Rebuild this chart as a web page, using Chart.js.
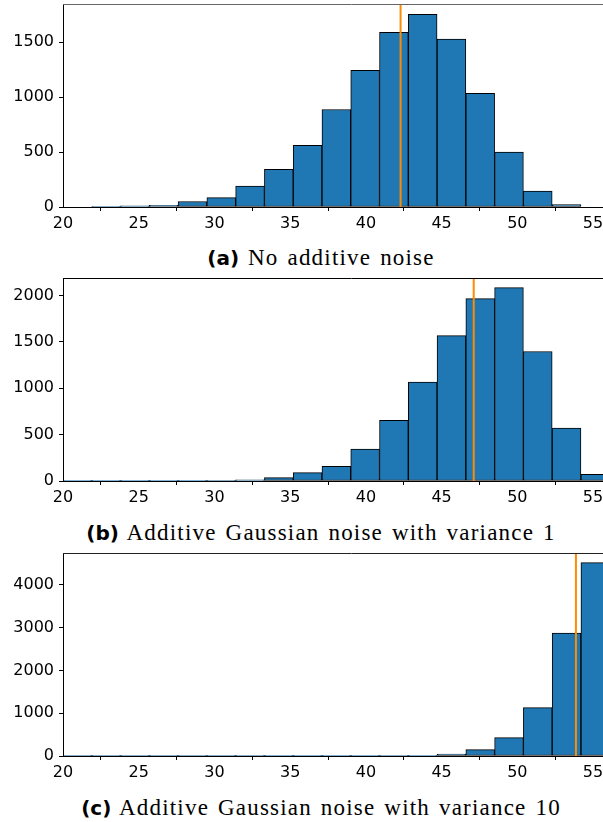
<!DOCTYPE html>
<html>
<head>
<meta charset="utf-8">
<script src="https://cdn.jsdelivr.net/npm/chart.js@4.4.1/dist/chart.umd.min.js"></script>
<style>
  html, body { margin: 0; padding: 0; background: #fff; }
  body { width: 603px; height: 822px; overflow: hidden; position: relative; }
  canvas { position: absolute; left: 0; }
  .cap {
    position: absolute; left: 0; width: 642px; text-align: center;
    font-family: "Liberation Serif", serif; font-size: 23px; line-height: 26px;
    letter-spacing: 1.2px; word-spacing: 2px; color: #000; white-space: nowrap;
  }
  .cap b { font-family: "DejaVu Sans", sans-serif; font-weight: bold; font-size: 20px; letter-spacing: 0; }
</style>
</head>
<body>
<canvas id="histA" width="640" height="237" style="top:0px"></canvas>
<canvas id="histB" width="640" height="237" style="top:274px"></canvas>
<canvas id="histC" width="640" height="237" style="top:549px"></canvas>
<div class="cap" style="top:245px"><b>(a)</b> No additive noise</div>
<div class="cap" style="top:520px"><b>(b)</b> Additive Gaussian noise with variance 1</div>
<div class="cap" style="top:795px"><b>(c)</b> Additive Gaussian noise with variance 10</div>
<script>
// histogram bins (shared by all three panels)
const binEdges = [20, 21.9, 23.8, 25.7, 27.6, 29.5, 31.4, 33.3, 35.2, 37.1, 39.0,
                  40.9, 42.8, 44.7, 46.6, 48.5, 50.4, 52.3, 54.2, 56.1];

const countsNoNoise = [0, 4, 10, 15, 50, 85, 191, 342, 561, 888, 1245,
                       1591, 1755, 1530, 1036, 500, 145, 21, 0];
const countsVar1 = [2, 2, 1, 2, 1, 6, 12, 36, 90, 157, 345,
                    654, 1066, 1569, 1968, 2086, 1397, 571, 72];
const countsVar10 = [1, 1, 1, 1, 1, 2, 2, 3, 3, 8, 5,
                     10, 15, 45, 148, 429, 1131, 2870, 4515];

// vertical orange marker per panel
const meanLines = [42.29, 47.12, 53.87];
const yLimits = [1849, 2190, 4741];

const xTicks = [20, 25, 30, 35, 40, 45, 50, 55];
const yTicksA = [0, 500, 1000, 1500];
const yTicksB = [0, 500, 1000, 1500, 2000];
const yTicksC = [0, 1000, 2000, 3000, 4000];

const binCenters = binEdges.slice(0, -1).map((e, i) => (e + binEdges[i + 1]) / 2);

const topSpine = {
  id: 'topSpine',
  afterDatasetsDraw(chart, args, opts) {
    const {ctx, chartArea} = chart;
    ctx.save();
    ctx.strokeStyle = opts.color || '#000';
    ctx.lineWidth = 1;
    ctx.beginPath();
    ctx.moveTo(chartArea.left, chartArea.top + 0.5);
    ctx.lineTo(chartArea.right, chartArea.top + 0.5);
    ctx.stroke();
    ctx.restore();
  }
};

const tickFont = {family: 'DejaVu Sans', size: 16};

function makeHist(id, counts, mean, yMax, yTicks, spineColor) {
  return new Chart(document.getElementById(id), {
    type: 'bar',
    data: {
      datasets: [{
        type: 'line',
        data: [{x: mean, y: 0}, {x: mean, y: yMax}],
        borderColor: '#ff8c00',
        borderWidth: 2,
        pointRadius: 0,
        order: 0
      }, {
        type: 'bar',
        data: binCenters.map((c, i) => ({x: c, y: counts[i]})),
        backgroundColor: '#1f77b4',
        borderColor: '#000',
        borderWidth: 1,
        borderSkipped: false,
        barPercentage: 1,
        categoryPercentage: 1,
        order: 1
      }]
    },
    options: {
      responsive: false,
      animation: false,
      events: [],
      layout: {padding: {top: 4, left: 0, right: 0, bottom: 0}},
      plugins: {
        legend: {display: false},
        tooltip: {enabled: false},
        topSpine: {color: spineColor}
      },
      scales: {
        x: {
          type: 'linear',
          min: 20,
          max: 58.1,
          offset: false,
          afterBuildTicks: s => { s.ticks = xTicks.map(v => ({value: v})); },
          afterFit: s => { s.height = 30; s.paddingLeft = 0; s.paddingRight = 0; },
          grid: {drawOnChartArea: false, drawTicks: true, tickLength: 4, color: '#000'},
          border: {display: true, color: '#000', width: 1},
          ticks: {font: tickFont, color: '#000', padding: 3, maxRotation: 0, callback: v => String(v)}
        },
        y: {
          min: 0,
          max: yMax,
          afterBuildTicks: s => { s.ticks = yTicks.map(v => ({value: v})); },
          afterFit: s => { s.width = 63; s.paddingTop = 0; s.paddingBottom = 0; },
          grid: {drawOnChartArea: false, drawTicks: true, tickLength: 4, color: '#000'},
          border: {display: true, color: '#000', width: 1},
          ticks: {font: tickFont, color: '#000', padding: 5, callback: v => String(v)}
        }
      }
    },
    plugins: [topSpine]
  });
}

makeHist('histA', countsNoNoise, meanLines[0], yLimits[0], yTicksA, '#666');
makeHist('histB', countsVar1, meanLines[1], yLimits[1], yTicksB, '#000');
makeHist('histC', countsVar10, meanLines[2], yLimits[2], yTicksC, '#222');
</script>
</body>
</html>
